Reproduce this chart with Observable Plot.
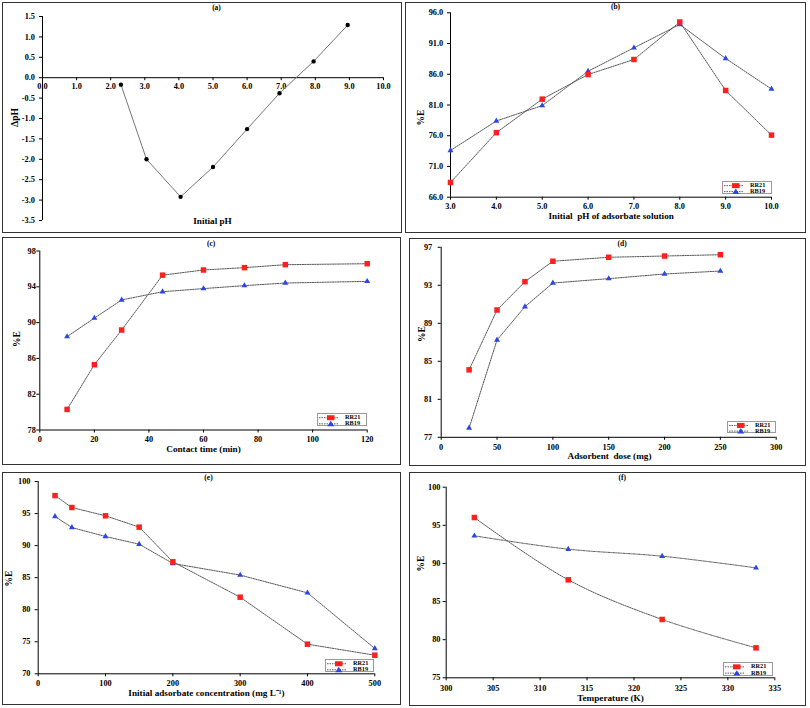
<!DOCTYPE html>
<html><head><meta charset="utf-8">
<script src="https://cdn.jsdelivr.net/npm/d3@7"></script>
<script src="https://cdn.jsdelivr.net/npm/@observablehq/plot@0.6"></script>
<style>
body{margin:0;background:#fff;}
#wrap{position:relative;width:810px;height:708px;overflow:hidden;font-family:"Liberation Serif",serif;font-weight:bold;}
.bord{position:absolute;box-sizing:border-box;border:1.5px solid #333;pointer-events:none;}
</style></head><body><div id="wrap"></div>
<script>
// ---------- data ----------
const seriesNames = ["RR21", "RB19"];
const panelTitles = ["(a)", "(b)", "(c)", "(d)", "(e)", "(f)"];
const xLabels = ["Initial pH", "Initial  pH of adsorbate solution", "Contact time (min)", "Adsorbent  dose (mg)", "Initial adsorbate concentration (mg L\u207B\u00B9)", "Temperature (K)"];
const yLabels = ["\u0394pH", "%E", "%E", "%E", "%E", "%E"];

const phA = [2.3, 3.05, 4.05, 5.0, 6.0, 6.95, 7.95, 8.95];
const dphA = [-0.17, -2.0, -2.92, -2.19, -1.26, -0.38, 0.40, 1.29];

const phB = [3, 4, 5, 6, 7, 8, 9, 10];
const rr21B = [68.4, 76.5, 81.95, 85.96, 88.4, 94.5, 83.36, 76.1];
const rb19B = [73.6, 78.4, 80.9, 86.5, 90.3, 94.1, 88.57, 83.6];

const timeC = [10, 20, 30, 45, 60, 75, 90, 120];
const rr21C = [80.3, 85.3, 89.17, 95.3, 95.88, 96.14, 96.47, 96.58];
const rb19C = [88.43, 90.5, 92.53, 93.45, 93.8, 94.13, 94.42, 94.61];

const doseD = [25, 50, 75, 100, 150, 200, 250];
const rr21D = [84.1, 90.4, 93.38, 95.53, 95.95, 96.08, 96.22];
const rb19D = [77.98, 87.24, 90.75, 93.24, 93.7, 94.19, 94.5];

const concE = [25, 50, 100, 150, 200, 300, 400, 500];
const rr21E = [97.8, 95.94, 94.65, 92.88, 87.47, 81.95, 74.62, 72.9];
const rb19E = [94.54, 92.82, 91.42, 90.22, 87.21, 85.4, 82.63, 73.95];

const tempF = [303, 313, 323, 333];
const rr21F = [96.02, 87.85, 82.65, 78.93];
const rb19F = [93.62, 91.87, 90.95, 89.42];

// tick labels
const xTicksA = [0, 1, 2, 3, 4, 5, 6, 7, 8, 9, 10];
const yTicksA = [1.5, 1.0, 0.5, 0.0, -0.5, -1.0, -1.5, -2.0, -2.5, -3.0, -3.5];
const xTicksB = [3, 4, 5, 6, 7, 8, 9, 10];
const yTicksB = [66, 71, 76, 81, 86, 91, 96];
const xTicksC = [0, 20, 40, 60, 80, 100, 120];
const yTicksC = [78, 82, 86, 90, 94, 98];
const xTicksD = [0, 50, 100, 150, 200, 250, 300];
const yTicksD = [77, 81, 85, 89, 93, 97];
const xTicksE = [0, 100, 200, 300, 400, 500];
const yTicksE = [70, 75, 80, 85, 90, 95, 100];
const xTicksF = [300, 305, 310, 315, 320, 325, 330, 335];
const yTicksF = [75, 80, 85, 90, 95, 100];

// ---------- styling ----------
const RED = "#ff1f1f", BLUE = "#2a45e8", LINE = "#5a5a5a";
const wrap = document.getElementById("wrap");
const f1 = d => d.toFixed(1);
const f0 = d => d.toFixed(0);
const centered = {lineAnchor: "middle", textAnchor: "middle"};

function twoSeries(xs, a, b, curve) {
  const rows = xs.map((x, i) => ({x, rr: a[i], rb: b[i]}));
  return [
    Plot.line(rows, {x: "x", y: "rb", stroke: LINE, strokeWidth: 1, strokeDasharray: "1.5,1", curve}),
    Plot.line(rows, {x: "x", y: "rr", stroke: LINE, strokeWidth: 1, strokeDasharray: "1.5,1", curve}),
    Plot.dot(rows, {x: "x", y: "rb", symbol: "triangle", fill: BLUE, r: 2.2}),
    Plot.dot(rows, {x: "x", y: "rr", symbol: "square", fill: RED, r: 3.1})
  ];
}

function addLegend(lg) {
  const w = lg.x1 - lg.x0, h = lg.y1 - lg.y0;
  const div = document.createElement("div");
  div.style.cssText = `position:absolute;left:${lg.x0}px;top:${lg.y0}px;width:${w}px;height:${h}px;box-sizing:border-box;border:1px solid #9a9a9a;background:#fff;`;
  const r1 = h * 0.28, r2 = h * 0.74;
  div.innerHTML = `<svg width="${w}" height="${h}" style="position:absolute;left:0;top:0;overflow:visible" font-family="Liberation Serif" font-weight="bold" font-size="6.3">
    <line x1="1" x2="20" y1="${r1}" y2="${r1}" stroke="${LINE}" stroke-dasharray="1.5,1"/>
    <rect x="9" y="${r1 - 2.5}" width="7.5" height="5" fill="${RED}"/>
    <text x="27" y="${r1}" dominant-baseline="middle">${seriesNames[0]}</text>
    <line x1="1" x2="20" y1="${r2}" y2="${r2}" stroke="${LINE}" stroke-dasharray="1.5,1"/>
    <polygon points="12.8,${r2 - 3} 16.3,${r2 + 2.4} 9.3,${r2 + 2.4}" fill="${BLUE}"/>
    <text x="27" y="${r2}" dominant-baseline="middle">${seriesNames[1]}</text>
  </svg>`;
  wrap.appendChild(div);
}

function buildPanel(cfg) {
  const {box, plot, xDomain, yDomain, xTicks, yTicks, xFmt, yFmt, title, titlePos, xLabel, xLabelPos,
         yLabel, yLabelPos, marks, zeroAxis, xPad = 3.5, yPad = 3, legend} = cfg;
  const W = box.r - box.l, H = box.b - box.t;
  const cx = (plot.x0 + plot.x1) / 2, cy = (plot.y0 + plot.y1) / 2;
  const extra = [];
  if (zeroAxis) {
    const unitPerPx = (yDomain[1] - yDomain[0]) / (plot.y1 - plot.y0);
    extra.push(Plot.ruleY([0], {stroke: "#000", strokeWidth: 1}));
    extra.push(Plot.ruleX(xTicks, {x: d => d, y1: 0, y2: -3 * unitPerPx, stroke: "#000"}));
    extra.push(Plot.text(xTicks, {x: d => d, y: 0, text: d => xFmt(d), dy: 8.5, fontSize: 8.3, ...centered}));
  } else {
    extra.push(Plot.ruleY([yDomain[0]], {stroke: "#000", strokeWidth: 1}));
  }
  const chart = Plot.plot({
    width: W, height: H,
    marginLeft: plot.x0 - box.l, marginRight: box.r - plot.x1,
    marginTop: plot.y0 - box.t, marginBottom: box.b - plot.y1,
    style: {fontFamily: "'Liberation Serif', serif", fontWeight: "bold", fontSize: "8.3px", color: "#000", background: "transparent"},
    x: zeroAxis ? {domain: xDomain, axis: null}
                : {domain: xDomain, ticks: xTicks, tickFormat: xFmt, tickSize: 3, tickPadding: xPad, label: null},
    y: {domain: yDomain, ticks: yTicks, tickFormat: yFmt, tickSize: 3, tickPadding: yPad, label: null},
    marks: [
      Plot.ruleX([xDomain[0]], {stroke: "#000", strokeWidth: 1}),
      ...extra,
      ...marks,
      Plot.text([title], {frameAnchor: "top", dx: titlePos[0] - cx, dy: titlePos[1] - plot.y0, fontSize: 7.5, ...centered}),
      Plot.text([xLabel], {frameAnchor: "bottom", dx: xLabelPos[0] - cx, dy: xLabelPos[1] - plot.y1, fontSize: 9.2, ...centered}),
      Plot.text([yLabel], {frameAnchor: "left", rotate: -90, dx: yLabelPos[0] - plot.x0, dy: yLabelPos[1] - cy, fontSize: 9.5, ...centered})
    ]
  });
  chart.style.position = "absolute";
  chart.style.left = box.l + "px";
  chart.style.top = box.t + "px";
  chart.style.overflow = "visible";
  wrap.appendChild(chart);
  const b = document.createElement("div");
  b.className = "bord";
  b.style.cssText = `left:${box.l}px;top:${box.t}px;width:${W}px;height:${H}px;`;
  wrap.appendChild(b);
  if (legend) addLegend(legend);
}

// (a)
const rowsA = phA.map((x, i) => ({x, y: dphA[i]}));
buildPanel({
  box: {l: 2, t: 2, r: 402, b: 233}, plot: {x0: 42, x1: 383, y0: 16, y1: 220},
  xDomain: [0, 10], yDomain: [-3.5, 1.5], xTicks: xTicksA, yTicks: yTicksA, xFmt: f1, yFmt: f1,
  title: panelTitles[0], titlePos: [216, 7.5], xLabel: xLabels[0], xLabelPos: [212, 221],
  yLabel: yLabels[0], yLabelPos: [14, 117], zeroAxis: true, yPad: 4.5,
  marks: [
    Plot.line(rowsA, {x: "x", y: "y", stroke: "#777", strokeWidth: 1}),
    Plot.dot(rowsA, {x: "x", y: "y", fill: "#000", r: 2.2})
  ]
});
// (b)
buildPanel({
  box: {l: 405, t: 2, r: 806, b: 233}, plot: {x0: 450, x1: 771, y0: 12.3, y1: 196.7},
  xDomain: [3, 10], yDomain: [66, 96], xTicks: xTicksB, yTicks: yTicksB, xFmt: f1, yFmt: f1,
  title: panelTitles[1], titlePos: [615, 6.5], xLabel: xLabels[1], xLabelPos: [610.7, 215.5],
  yLabel: yLabels[1], yLabelPos: [420, 117], yPad: 4.3, xPad: 3.2,
  marks: twoSeries(phB, rr21B, rb19B, "linear"),
  legend: {x0: 722, y0: 180.5, x1: 771.5, y1: 193.5}
});
// (c)
buildPanel({
  box: {l: 2, t: 236.5, r: 401, b: 465}, plot: {x0: 39.3, x1: 366.7, y0: 250, y1: 429},
  xDomain: [0, 120], yDomain: [78, 98], xTicks: xTicksC, yTicks: yTicksC, xFmt: f0, yFmt: f0,
  title: panelTitles[2], titlePos: [210.7, 243], xLabel: xLabels[2], xLabelPos: [203, 448.5],
  yLabel: yLabels[2], yLabelPos: [16, 338], yPad: 1, xPad: 3.3,
  marks: twoSeries(timeC, rr21C, rb19C, "linear"),
  legend: {x0: 317.3, y0: 413, x1: 366.7, y1: 426.3}
});
// (d)
buildPanel({
  box: {l: 409, t: 237.5, r: 806, b: 465.5}, plot: {x0: 440.7, x1: 775.7, y0: 246.3, y1: 436.3},
  xDomain: [0, 300], yDomain: [77, 97], xTicks: xTicksD, yTicks: yTicksD, xFmt: f0, yFmt: f0,
  title: panelTitles[3], titlePos: [621.7, 243], xLabel: xLabels[3], xLabelPos: [609, 455.5],
  yLabel: yLabels[3], yLabelPos: [421, 333], yPad: 6, xPad: 3.5,
  marks: twoSeries(doseD, rr21D, rb19D, "linear"),
  legend: {x0: 726.7, y0: 420.7, x1: 775.7, y1: 433}
});
// (e)
buildPanel({
  box: {l: 2, t: 472, r: 401, b: 705}, plot: {x0: 37.7, x1: 374.3, y0: 481, y1: 673.3},
  xDomain: [0, 500], yDomain: [70, 100], xTicks: xTicksE, yTicks: yTicksE, xFmt: f0, yFmt: f0,
  title: panelTitles[4], titlePos: [208, 476.7], xLabel: xLabels[4], xLabelPos: [206, 692.5],
  yLabel: yLabels[4], yLabelPos: [8.3, 578], yPad: 4.7, xPad: 3.2,
  marks: twoSeries(concE, rr21E, rb19E, "linear"),
  legend: {x0: 325, y0: 659, x1: 374.3, y1: 672.3}
});
// (f)
buildPanel({
  box: {l: 409, t: 472, r: 806, b: 706}, plot: {x0: 445.7, x1: 774.3, y0: 486.7, y1: 677.3},
  xDomain: [300, 335], yDomain: [75, 100], xTicks: xTicksF, yTicks: yTicksF, xFmt: f0, yFmt: f0,
  title: panelTitles[5], titlePos: [621.7, 477.3], xLabel: xLabels[5], xLabelPos: [610, 697.5],
  yLabel: yLabels[5], yLabelPos: [420.7, 563], yPad: 2.7, xPad: 4,
  marks: twoSeries(tempF, rr21F, rb19F, "catmull-rom"),
  legend: {x0: 723.3, y0: 662.3, x1: 772.7, y1: 676}
});
</script></body></html>
